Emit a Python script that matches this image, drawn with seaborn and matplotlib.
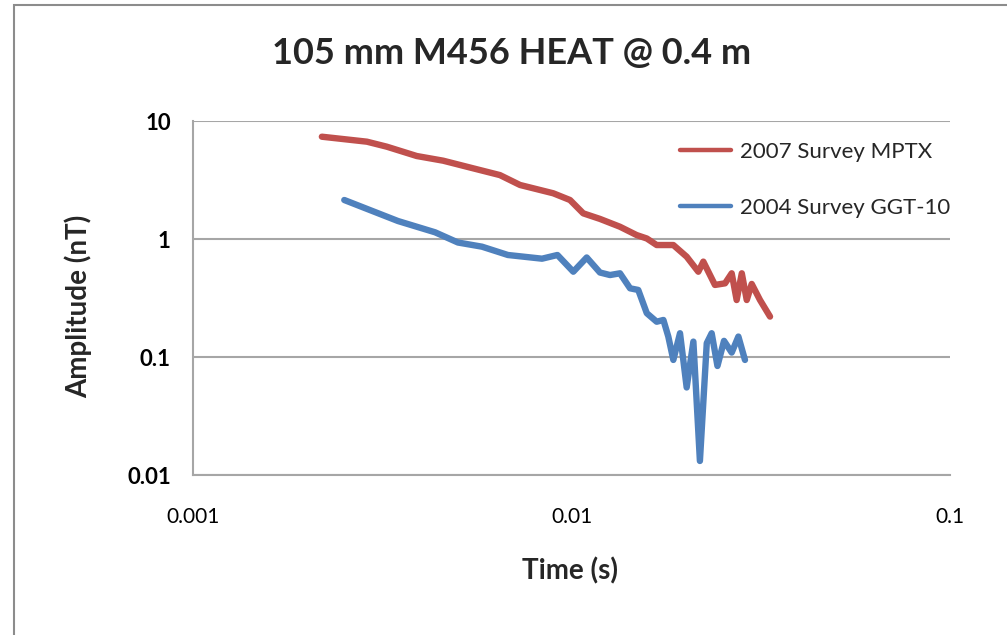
import matplotlib
matplotlib.use("Agg")
import matplotlib.pyplot as plt
from matplotlib.patches import Rectangle
import pandas as pd
import seaborn as sns

# Decay curves (time in s, amplitude in nT)
t_2007 = [0.00219, 0.00288, 0.00325, 0.00390, 0.00458, 0.00550, 0.00647, 0.00731,
          0.00895, 0.00991, 0.01074, 0.01189, 0.01343, 0.01486, 0.01581, 0.01679,
          0.01858, 0.02015, 0.02163, 0.02230, 0.02393, 0.02545, 0.02650, 0.02731,
          0.02818, 0.02904, 0.02993, 0.03148, 0.03346]
a_2007 = [7.36, 6.68, 6.06, 5.05, 4.61, 3.97, 3.48, 2.87,
          2.44, 2.14, 1.65, 1.48, 1.27, 1.08, 1.01, 0.889,
          0.889, 0.708, 0.528, 0.643, 0.408, 0.421, 0.512, 0.304,
          0.512, 0.304, 0.416, 0.304, 0.220]

t_2004 = [0.00251, 0.00348, 0.00436, 0.00501, 0.00580, 0.00679, 0.00836, 0.00918,
          0.01011, 0.01097, 0.01189, 0.01264, 0.01343, 0.01428, 0.01501, 0.01581,
          0.01679, 0.01749, 0.01802, 0.01858, 0.01935, 0.02015, 0.02099, 0.02184,
          0.02277, 0.02346, 0.02430, 0.02529, 0.02650, 0.02760, 0.02873]
a_2004 = [2.14, 1.42, 1.14, 0.934, 0.861, 0.732, 0.681, 0.732,
          0.528, 0.697, 0.520, 0.495, 0.512, 0.382, 0.370, 0.235,
          0.199, 0.206, 0.149, 0.0944, 0.159, 0.0552, 0.135, 0.01315,
          0.131, 0.159, 0.0839, 0.137, 0.109, 0.149, 0.0944]

series_names = ["2007 Survey MPTX", "2004 Survey GGT-10"]
series_colors = ["#C0504D", "#4F81BD"]
x_ticks = [0.001, 0.01, 0.1]
x_tick_labels = ["0.001", "0.01", "0.1"]
y_ticks = [0.01, 0.1, 1, 10]
y_tick_labels = ["0.01", "0.1", "1", "10"]

df = pd.concat([
    pd.DataFrame({"Time": t_2007, "Amplitude": a_2007, "Series": series_names[0]}),
    pd.DataFrame({"Time": t_2004, "Amplitude": a_2004, "Series": series_names[1]}),
], ignore_index=True)

sns.set_theme(style="white")
plt.rcParams["font.family"] = ["Lato", "DejaVu Sans"]

W, H = 1007, 635
fig = plt.figure(figsize=(W / 100, H / 100), dpi=100)
ax = fig.add_axes([193 / W, 1 - 475 / H, (950 - 193) / W, (475 - 121) / H])

sns.lineplot(data=df, x="Time", y="Amplitude", hue="Series", hue_order=series_names,
             palette=series_colors, sort=False, estimator=None, linewidth=4.6,
             solid_joinstyle="round", solid_capstyle="round", ax=ax, legend=True)

ax.set_xscale("log")
ax.set_yscale("log")
ax.set_xlim(0.001, 0.1)
ax.set_ylim(0.01, 10)
ax.set_xticks(x_ticks)
ax.set_xticklabels(x_tick_labels, fontsize=15)
ax.set_yticks(y_ticks)
ax.set_yticklabels(y_tick_labels, fontsize=16, fontweight="bold")
ax.minorticks_off()

grid_col = "#A6A6A6"
ax.yaxis.grid(True, color=grid_col, linewidth=1.5)
ax.xaxis.grid(False)
ax.set_axisbelow(True)
for side in ["top", "right"]:
    ax.spines[side].set_visible(False)
for side in ["left", "bottom"]:
    ax.spines[side].set_color(grid_col)
    ax.spines[side].set_linewidth(1.5)
ax.tick_params(axis="both", which="major", direction="out", length=5, width=1.5,
               color=grid_col, labelcolor="black")
ax.tick_params(axis="x", pad=18)
ax.tick_params(axis="y", pad=11)

ax.set_xlabel("")
ax.set_ylabel("")
fig.text(570 / W, 1 - 571 / H, "Time (s)", ha="center", va="center",
         fontsize=20, fontweight="bold")
fig.text(78 / W, 1 - 306 / H, "Amplitude (nT)", ha="center", va="center",
         rotation=90, fontsize=20, fontweight="bold")
fig.text(512 / W, 1 - 53 / H, "105 mm M456 HEAT @ 0.4 m", ha="center",
         va="center", fontsize=26, fontweight="bold")

leg = ax.legend(loc="upper left", bbox_to_anchor=(680 / W, 1 - 142 / H),
                bbox_transform=fig.transFigure, frameon=False, fontsize=16,
                handlelength=2.3, labelspacing=1.6, handletextpad=0.4,
                borderaxespad=0, borderpad=0)
for line in leg.get_lines():
    line.set_linewidth(3.2)

# outer chart frame
fig.patches.append(Rectangle((14 / W, -0.05), 1.2, 1.05 - 5 / H,
                             transform=fig.transFigure, fill=False,
                             edgecolor="#8C8C8C", linewidth=1.5))

fig.savefig("out.png", dpi=100)
